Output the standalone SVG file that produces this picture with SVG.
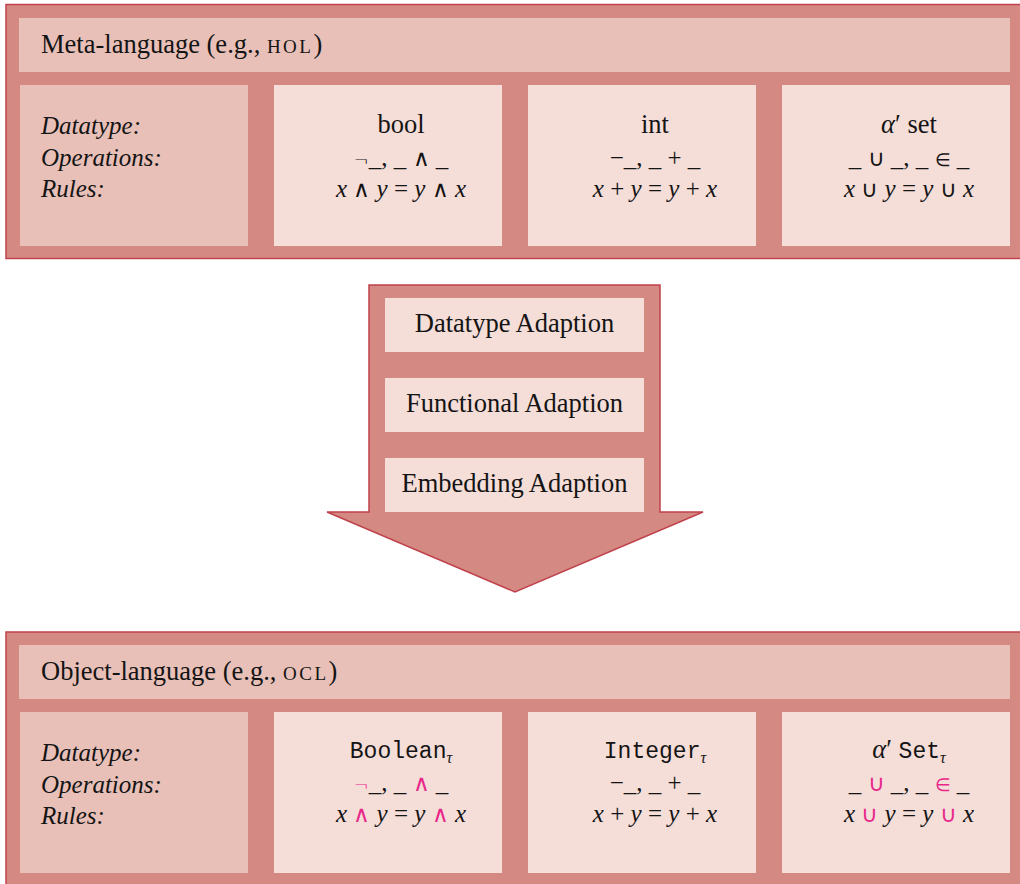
<svg xmlns="http://www.w3.org/2000/svg" width="1020" height="884" viewBox="0 0 1020 884">
  <style>
    .frame { fill: #d48a82; stroke: #c0424c; stroke-width: 1.5; }
    .hdr { fill: #e8c0b8; }
    .cell { fill: #f5ddd8; }
    .t { font-family: "Liberation Serif", "Times New Roman", serif; font-size: 26.5px; fill: #141414; }
    .r { font-size: 25px; }
    .c { text-anchor: middle; }
    .it { font-style: italic; }
    .lab { font-style: italic; font-size: 25px; }
    .mono { font-family: "Liberation Mono", "Courier New", monospace; font-size: 23px; }
    .sc { font-size: 19px; letter-spacing: 2.5px; }
    .sub { font-style: italic; font-size: 16px; }
    .op { font-family: "DejaVu Sans", sans-serif; font-size: 23px; font-weight: 200; }
    .el { font-family: "DejaVu Sans", sans-serif; font-size: 18px; font-weight: 200; }
    .pk { fill: #e8288a; }
  </style>

  <!-- Meta-language panel -->
  <g id="meta">
    <rect class="frame" x="6" y="4.5" width="1030" height="254"/>
    <rect class="hdr" x="19" y="18" width="991" height="54"/>
    <text class="t" x="41" y="53">Meta-language (e.g., <tspan class="sc">HOL</tspan>)</text>
  </g>
  <g id="meta-labels">
    <rect class="hdr" x="20" y="85" width="228" height="161"/>
    <text class="t lab" x="41" y="134">Datatype:</text>
    <text class="t lab" x="41" y="166">Operations:</text>
    <text class="t lab" x="41" y="197">Rules:</text>
  </g>
  <g id="meta-bool">
    <rect class="cell" x="274" y="85" width="228" height="161"/>
    <text class="t c" x="401" y="133">bool</text>
    <text class="t r c" x="401" y="166"><tspan class="el">¬</tspan>_, _ <tspan class="op">∧</tspan> _</text>
    <text class="t r c" x="401" y="197"><tspan class="it">x</tspan> <tspan class="op">∧</tspan> <tspan class="it">y</tspan> = <tspan class="it">y</tspan> <tspan class="op">∧</tspan> <tspan class="it">x</tspan></text>
  </g>
  <g id="meta-int">
    <rect class="cell" x="528" y="85" width="228" height="161"/>
    <text class="t c" x="655" y="133">int</text>
    <text class="t r c" x="655" y="166">−_, _ + _</text>
    <text class="t r c" x="655" y="197"><tspan class="it">x</tspan> + <tspan class="it">y</tspan> = <tspan class="it">y</tspan> + <tspan class="it">x</tspan></text>
  </g>
  <g id="meta-set">
    <rect class="cell" x="782" y="85" width="228" height="161"/>
    <text class="t c" x="909" y="133"><tspan class="it">α</tspan>′ set</text>
    <text class="t r c" x="909" y="166">_ <tspan class="op">∪</tspan> _, _ <tspan class="el">∈</tspan> _</text>
    <text class="t r c" x="909" y="197"><tspan class="it">x</tspan> <tspan class="op">∪</tspan> <tspan class="it">y</tspan> = <tspan class="it">y</tspan> <tspan class="op">∪</tspan> <tspan class="it">x</tspan></text>
  </g>

  <!-- Translation arrow -->
  <g id="connectors">
    <polygon class="frame" points="369,285 660,285 660,512 703,512 515,592 327,512 369,512"/>
  </g>
  <g id="datatype-adaption">
    <rect class="cell" x="385" y="298" width="259" height="54"/>
    <text class="t c" x="514.5" y="332">Datatype Adaption</text>
  </g>
  <g id="functional-adaption">
    <rect class="cell" x="385" y="378" width="259" height="54"/>
    <text class="t c" x="514.5" y="412">Functional Adaption</text>
  </g>
  <g id="embedding-adaption">
    <rect class="cell" x="385" y="458" width="259" height="54"/>
    <text class="t c" x="514.5" y="492">Embedding Adaption</text>
  </g>

  <!-- Object-language panel -->
  <g id="object">
    <rect class="frame" x="6" y="632" width="1030" height="270"/>
    <rect class="hdr" x="19" y="645" width="991" height="54"/>
    <text class="t" x="41" y="680">Object-language (e.g., <tspan class="sc">OCL</tspan>)</text>
  </g>
  <g id="object-labels">
    <rect class="hdr" x="20" y="712" width="228" height="161"/>
    <text class="t lab" x="41" y="761">Datatype:</text>
    <text class="t lab" x="41" y="793">Operations:</text>
    <text class="t lab" x="41" y="824">Rules:</text>
  </g>
  <g id="object-boolean">
    <rect class="cell" x="274" y="712" width="228" height="161"/>
    <text class="t c" x="401" y="758"><tspan class="mono">Boolean</tspan><tspan class="sub" dy="5">τ</tspan></text>
    <text class="t r c" x="401" y="791"><tspan class="el pk">¬</tspan>_, _ <tspan class="op pk">∧</tspan> _</text>
    <text class="t r c" x="401" y="822"><tspan class="it">x</tspan> <tspan class="op pk">∧</tspan> <tspan class="it">y</tspan> = <tspan class="it">y</tspan> <tspan class="op pk">∧</tspan> <tspan class="it">x</tspan></text>
  </g>
  <g id="object-integer">
    <rect class="cell" x="528" y="712" width="228" height="161"/>
    <text class="t c" x="655" y="758"><tspan class="mono">Integer</tspan><tspan class="sub" dy="5">τ</tspan></text>
    <text class="t r c" x="655" y="791">−_, _ + _</text>
    <text class="t r c" x="655" y="822"><tspan class="it">x</tspan> + <tspan class="it">y</tspan> = <tspan class="it">y</tspan> + <tspan class="it">x</tspan></text>
  </g>
  <g id="object-set">
    <rect class="cell" x="782" y="712" width="228" height="161"/>
    <text class="t c" x="909" y="758"><tspan class="it">α</tspan>′ <tspan class="mono">Set</tspan><tspan class="sub" dy="5">τ</tspan></text>
    <text class="t r c" x="909" y="791">_ <tspan class="op pk">∪</tspan> _, _ <tspan class="el pk">∈</tspan> _</text>
    <text class="t r c" x="909" y="822"><tspan class="it">x</tspan> <tspan class="op pk">∪</tspan> <tspan class="it">y</tspan> = <tspan class="it">y</tspan> <tspan class="op pk">∪</tspan> <tspan class="it">x</tspan></text>
  </g>
</svg>
